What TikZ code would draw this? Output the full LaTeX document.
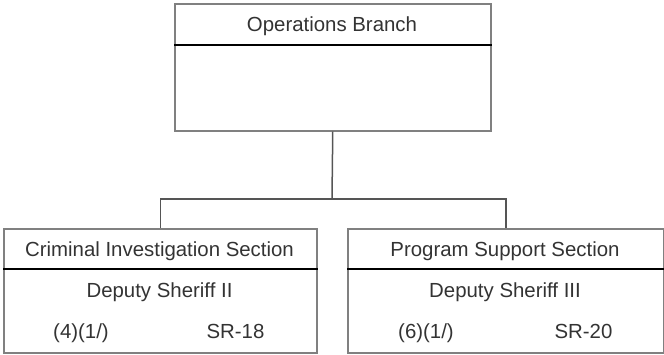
\documentclass[tikz,border=0pt]{standalone}
\usepackage{fontspec}
\setmainfont{Liberation Sans}
\definecolor{boxgray}{HTML}{808080}
\definecolor{txt}{HTML}{333333}
\definecolor{conn}{HTML}{555555}
\begin{document}
\begin{tikzpicture}[x=1pt,y=-1pt,
  orgbox/.style={draw=boxgray,line width=1.5pt,rectangle,inner sep=0pt,anchor=north west},
  divline/.style={draw=black,line width=1.5pt},
  lbl/.style={text=txt,font=\fontsize{20.4}{24}\selectfont,inner sep=0pt,anchor=base},
  connector/.style={draw=conn,line width=1.5pt}]
\useasboundingbox (0,0) rectangle (664,354);
% boxes
\node[orgbox,minimum width=316pt,minimum height=127pt] (top) at (174,3) {};
\node[orgbox,minimum width=313pt,minimum height=124pt] (lb) at (3,228) {};
\node[orgbox,minimum width=316pt,minimum height=124pt] (rb) at (347,228) {};
% dividers
\draw[divline] (top.west |- 0,45) -- (top.east |- 0,45);
\draw[divline] (lb.west |- 0,269) -- (lb.east |- 0,269);
\draw[divline] (rb.west |- 0,269) -- (rb.east |- 0,269);
% texts
\node[lbl] (ttl) at (332,31.7) {Operations Branch};
\node[lbl] (lt) at (159.5,256) {Criminal Investigation Section};
\node[lbl] (ld) at (159.5,297.7) {Deputy Sheriff II};
\node[lbl] (lc) at (81,338.3) {(4)(1/)};
\node[lbl] (lg) at (235.5,338.3) {SR-18};
\node[lbl] (rt) at (505,256) {Program Support Section};
\node[lbl] (rd) at (505,297.7) {Deputy Sheriff III};
\node[lbl] (rc) at (426,338.3) {(6)(1/)};
\node[lbl] (rg) at (583.5,338.3) {SR-20};
% connectors
\coordinate (jn) at (332,199);
\draw[connector] (top.south) -- (jn);
\draw[connector] (jn) -| (lb.north);
\draw[connector] (jn) -| (rb.north);
\end{tikzpicture}
\end{document}
